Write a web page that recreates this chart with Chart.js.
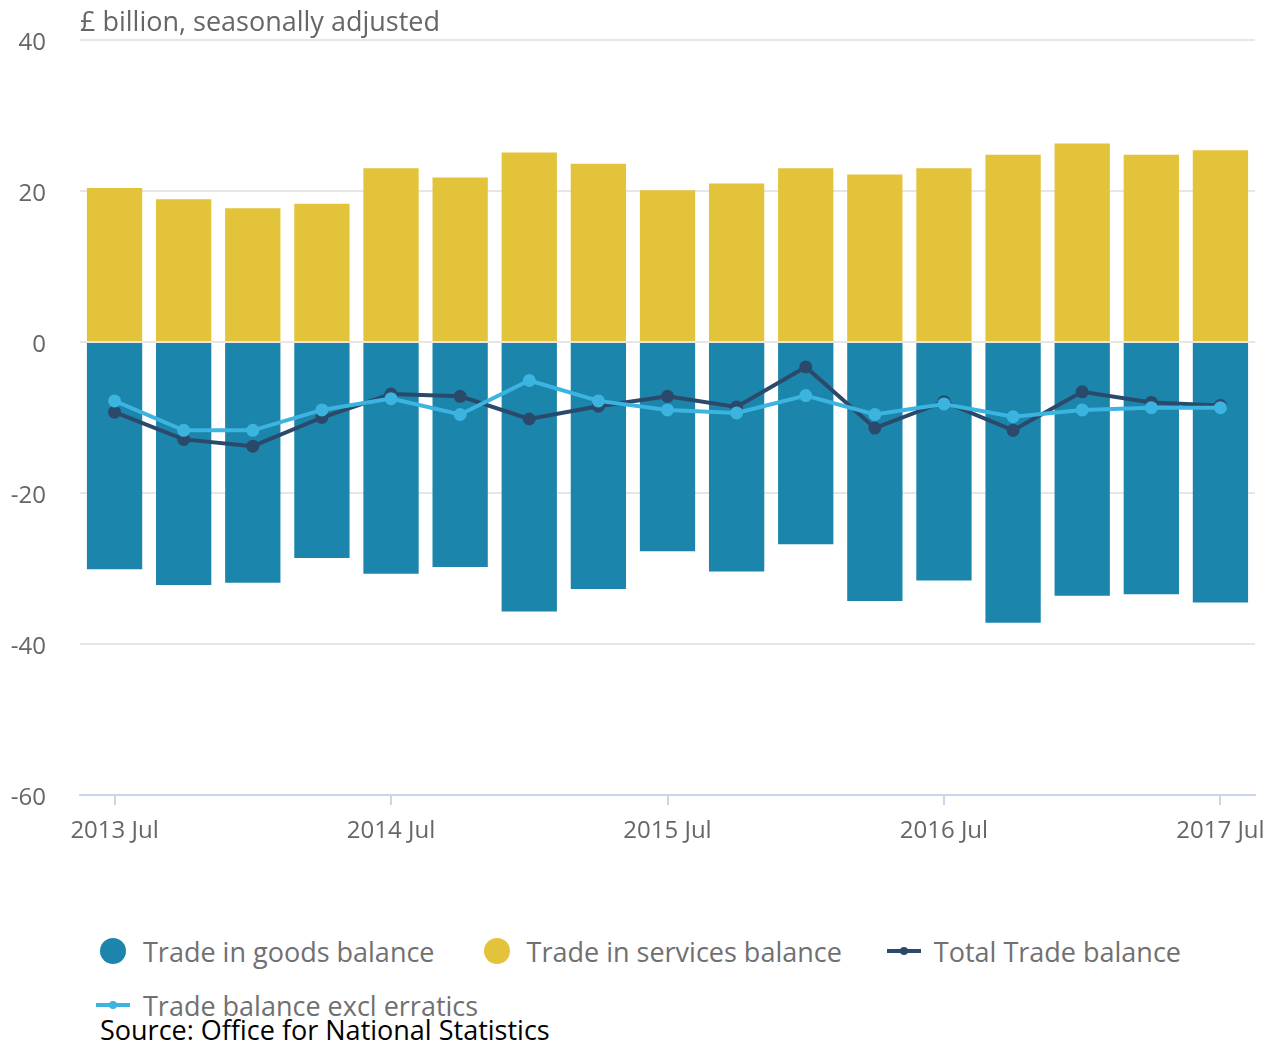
<!DOCTYPE html>
<html>
<head>
<meta charset="utf-8">
<script src="https://cdn.jsdelivr.net/npm/chart.js@4.4.0/dist/chart.umd.min.js"></script>
<style>
  body { margin: 0; background: #fff; font-family: "Open Sans", sans-serif; }
  #wrap { position: relative; width: 1268px; height: 1042px; }
  #legend { position: absolute; left: 96px; top: 930px; width: 1120px; display: flex; flex-wrap: wrap; column-gap: 45px; row-gap: 12px; }
  .item { display: flex; align-items: center; font-size: 27px; color: #707070; height: 42px; }
  .dot { width: 26px; height: 26px; border-radius: 50%; margin-right: 17px; margin-left: 4px; }
  .line { position: relative; width: 34px; height: 4px; margin-right: 13px; }
  .line span { position: absolute; left: 13px; top: -2px; width: 8px; height: 8px; border-radius: 50%; }
  #source { position: absolute; left: 100px; top: 1011px; font-size: 27px; color: #000; }
</style>
</head>
<body>
<div id="wrap">
  <canvas id="chart" width="1268" height="852"></canvas>
  <div id="legend"></div>
  <div id="source">Source: Office for National Statistics</div>
</div>
<script>
// quarters, 2013 Jul to 2017 Jul
let quarters = ['2013 Jul', '2013 Oct', '2014 Jan', '2014 Apr', '2014 Jul', '2014 Oct', '2015 Jan', '2015 Apr',
    '2015 Jul', '2015 Oct', '2016 Jan', '2016 Apr', '2016 Jul', '2016 Oct', '2017 Jan', '2017 Apr', '2017 Jul']

let goods = [-30.1, -32.2, -31.9, -28.6, -30.7, -29.8, -35.7, -32.7, -27.7, -30.4, -26.8, -34.3, -31.6, -37.2, -33.6, -33.4, -34.5]
let services = [20.4, 18.9, 17.7, 18.3, 23.0, 21.8, 25.1, 23.6, 20.1, 21.0, 23.0, 22.2, 23.0, 24.8, 26.3, 24.8, 25.4]
let total = [-9.3, -12.9, -13.8, -10.0, -6.9, -7.2, -10.2, -8.5, -7.2, -8.6, -3.3, -11.4, -7.9, -11.7, -6.6, -8.0, -8.4]
let exclErratics = [-7.8, -11.7, -11.7, -9.0, -7.5, -9.6, -5.1, -7.8, -9.0, -9.4, -7.1, -9.6, -8.2, -9.9, -9.0, -8.7, -8.7]

let yTicks = [40, 20, 0, -20, -40, -60]

let colGoods = '#1b85ab'
let colServices = '#e2c33a'
let colTotal = '#2b4a6b'
let colExcl = '#3cb4e0'

// title above the plot, left aligned with the grid
let unitLabel = {
    id: 'unitLabel',
    afterDraw: function(chart) {
        let ctx = chart.ctx
        ctx.save()
        ctx.font = '27px "Open Sans"'
        ctx.fillStyle = '#666666'
        ctx.textBaseline = 'middle'
        ctx.fillText('£ billion, seasonally adjusted', chart.chartArea.left, 23)
        ctx.restore()
    }
}

new Chart(document.getElementById('chart'), {
    type: 'bar',
    data: {
        labels: quarters,
        datasets: [
            { type: 'line', label: 'Trade balance excl erratics', data: exclErratics, stack: 'e', order: 0,
              borderColor: colExcl, backgroundColor: colExcl, borderWidth: 4, pointRadius: 4.5, pointHoverRadius: 4.5 },
            { type: 'line', label: 'Total Trade balance', data: total, stack: 't', order: 1,
              borderColor: colTotal, backgroundColor: colTotal, borderWidth: 4, pointRadius: 4.5, pointHoverRadius: 4.5 },
            { label: 'Trade in goods balance', data: goods, stack: 'bars', order: 2,
              backgroundColor: colGoods, barPercentage: 0.8, categoryPercentage: 1 },
            { label: 'Trade in services balance', data: services, stack: 'bars', order: 2,
              backgroundColor: colServices, barPercentage: 0.8, categoryPercentage: 1 }
        ]
    },
    options: {
        responsive: false,
        animation: false,
        layout: { padding: { top: 40, right: 13, left: 0, bottom: 0 } },
        plugins: { legend: { display: false }, tooltip: { enabled: false } },
        scales: {
            x: {
                stacked: true,
                offset: true,
                afterFit: function(scale) {
                    scale.height = 57
                    scale.paddingLeft = 0
                    scale.paddingRight = 0
                },
                border: { display: true, color: '#ccd6eb', width: 2 },
                grid: { offset: false, drawOnChartArea: false, drawTicks: true, tickLength: 10, color: '#ccd6eb', lineWidth: 2 },
                ticks: {
                    autoSkip: false, maxRotation: 0, padding: 12,
                    color: '#666666', font: { family: 'Open Sans', size: 24 },
                    callback: function(v, i) { return i % 4 == 0 ? quarters[i] : null }
                }
            },
            y: {
                stacked: true,
                min: -60, max: 40,
                afterFit: function(scale) {
                    scale.width = 80
                    scale.paddingTop = 0
                    scale.paddingBottom = 0
                },
                afterBuildTicks: function(scale) { scale.ticks = yTicks.map(function(v) { return { value: v } }) },
                border: { display: false },
                grid: { color: '#e6e6e6', lineWidth: 2, drawTicks: false },
                ticks: { padding: 34, labelOffset: 3, color: '#666666', font: { family: 'Open Sans', size: 24 } }
            }
        }
    },
    plugins: [unitLabel]
});

// legend in html, same order as the original
let legendItems = [
    { label: 'Trade in goods balance', color: colGoods, kind: 'dot' },
    { label: 'Trade in services balance', color: colServices, kind: 'dot' },
    { label: 'Total Trade balance', color: colTotal, kind: 'line' },
    { label: 'Trade balance excl erratics', color: colExcl, kind: 'line' }
]
let legend = document.getElementById('legend')
legendItems.forEach(function(it) {
    let sym = it.kind == 'dot'
        ? '<div class="dot" style="background:' + it.color + '"></div>'
        : '<div class="line" style="background:' + it.color + '"><span style="background:' + it.color + '"></span></div>'
    legend.insertAdjacentHTML('beforeend', '<div class="item">' + sym + it.label + '</div>')
})
</script>
</body>
</html>
